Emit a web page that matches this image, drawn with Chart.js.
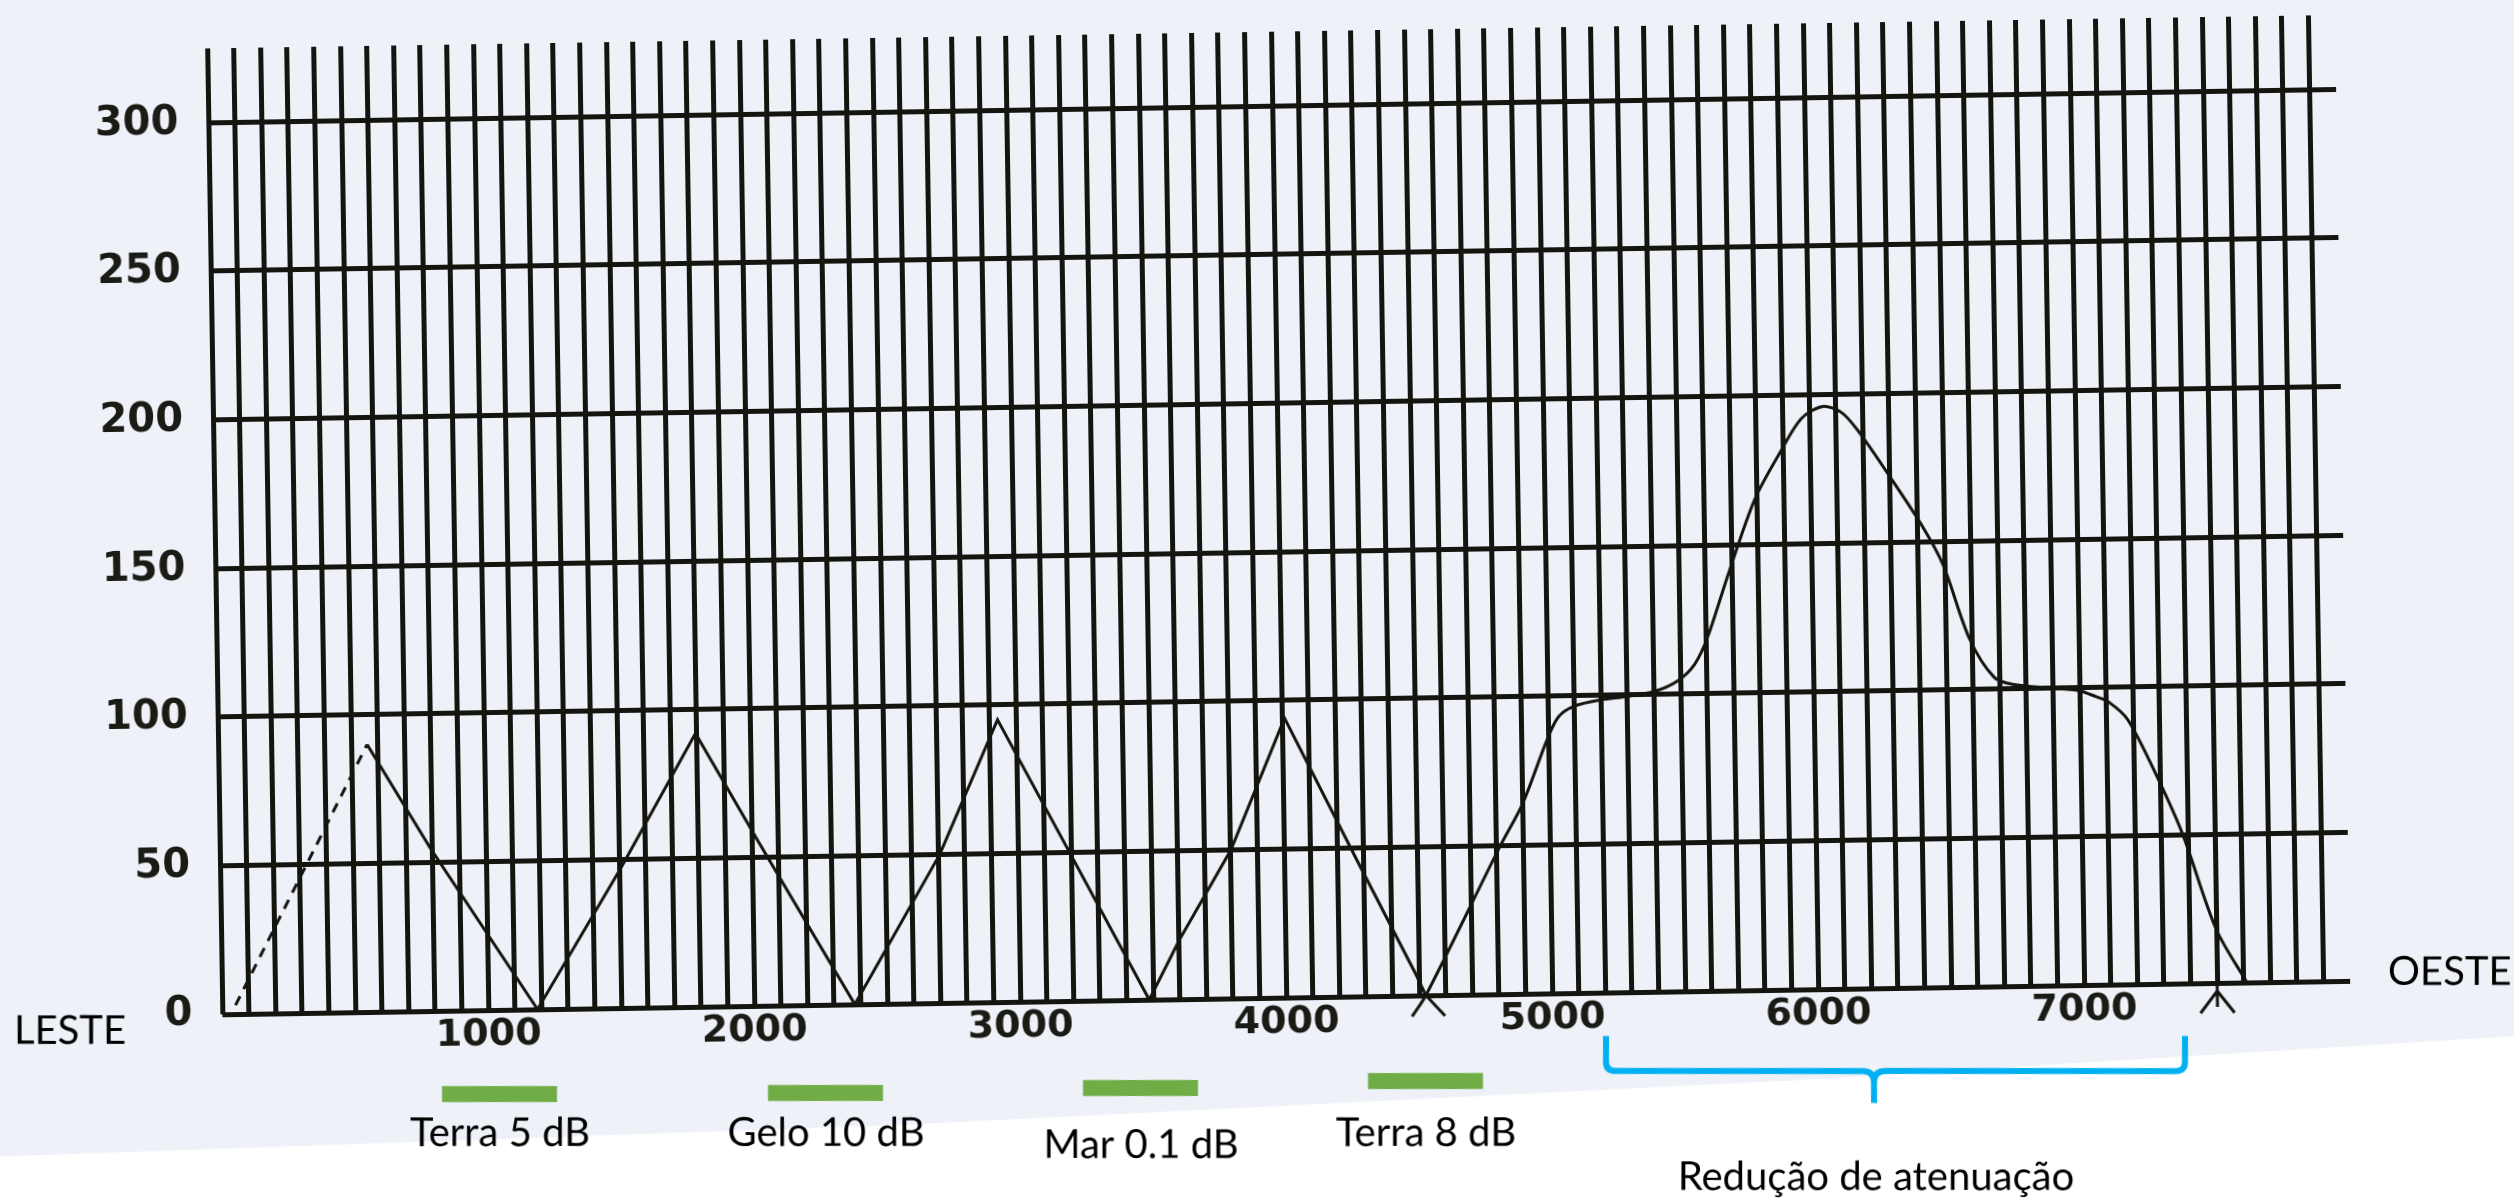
<!DOCTYPE html>
<html>
<head>
<meta charset="utf-8">
<script src="https://cdn.jsdelivr.net/npm/chart.js@4.4.0/dist/chart.umd.min.js"></script>
<style>
  html, body { margin: 0; padding: 0; overflow: hidden; background: #ffffff; }
  body { width: 2514px; height: 1201px; position: relative; }
  /* the scanned sheet sits slightly crooked; canvas is a bit larger than the page so the corners never show */
  #chart { position: absolute; left: -63px; top: -60px; transform: rotate(-0.9deg); transform-origin: 50% 50%; }
</style>
</head>
<body>
<canvas id="chart" width="2640" height="1320"></canvas>
<script>
// distance along the path vs level
const triangleX = [50, 560, 790, 1185, 1506, 1795, 2020, 2378, 2706, 2931, 3194, 3485, 3602, 3801, 4010, 4273, 4484, 4525, 4596];
const triangleY = [3, 90, 55, 0, 47, 92, 56, 0, 50, 95, 50, 0, 20, 50, 94, 46, 8, 0, -7];

const mainPeakX = [4472, 4525, 4814, 4900, 4994, 5040, 5100, 5200, 5300, 5400, 5490, 5555, 5605, 5690, 5790, 5890, 5970, 6050, 6120, 6180, 6300, 6420, 6495, 6590, 6680, 6750, 6900, 7000, 7060, 7110, 7180, 7290, 7380, 7500, 7612];
const mainPeakY = [-7, 0, 50, 64, 85, 93, 96.5, 98.5, 99.5, 101, 104.5, 110, 119, 141, 165, 181, 192, 196, 194, 188, 172, 155, 142, 117, 104, 101.5, 100, 99, 97, 95, 89, 69, 50, 18, 0];

const yTicks = [0, 50, 100, 150, 200, 250, 300];
const xTickLabels = [1000, 2000, 3000, 4000, 5000, 6000, 7000];
const bandLabels = ['Terra 5 dB', 'Gelo 10 dB', 'Mar 0.1 dB', 'Terra 8 dB'];
const braceLabel = 'Redução de atenuação';
const sideLabels = ['LESTE', 'OESTE'];
const arrowMarkX = 7500;

const TILT = 0.9;
const OFF_X = 63, OFF_Y = 60;
const ink = '#15150f';
const paper = '#eef1f8';

function toPoints(xs, ys) {
  return xs.map((x, i) => ({ x: x, y: ys[i] }));
}

// draw in page coordinates, undoing the css tilt and offset
function pageFrame(ctx, w, h) {
  ctx.translate(w / 2, h / 2);
  ctx.rotate(TILT * Math.PI / 180);
  ctx.translate(-w / 2, -h / 2);
  ctx.translate(OFF_X, OFF_Y);
}

const scanPaper = {
  id: 'scanPaper',
  beforeDraw(chart) {
    const { ctx, width, height } = chart;
    ctx.save();
    ctx.fillStyle = paper;
    ctx.fillRect(0, 0, width, height);
    pageFrame(ctx, width, height);
    // edge of the scan, white page below
    ctx.fillStyle = '#ffffff';
    ctx.beginPath();
    ctx.moveTo(-100, 1160);
    ctx.lineTo(900, 1125);
    ctx.lineTo(1800, 1080);
    ctx.lineTo(2650, 1028);
    ctx.lineTo(2650, 1350);
    ctx.lineTo(-100, 1350);
    ctx.closePath();
    ctx.fill();
    ctx.restore();
  },
  afterDraw(chart) {
    const { ctx, width, height, chartArea } = chart;
    const xs = chart.scales.x;

    // little arrow mark under the axis
    const ax = xs.getPixelForValue(arrowMarkX);
    const b = chartArea.bottom;
    ctx.save();
    ctx.strokeStyle = ink;
    ctx.lineWidth = 3;
    ctx.beginPath();
    ctx.moveTo(ax, b);
    ctx.lineTo(ax, b + 24);
    ctx.moveTo(ax - 17, b + 30);
    ctx.lineTo(ax, b + 8);
    ctx.lineTo(ax + 17, b + 30);
    ctx.stroke();
    ctx.restore();

    ctx.save();
    pageFrame(ctx, width, height);
    ctx.fillStyle = '#000';
    ctx.font = '40px Lato';
    ctx.textBaseline = 'middle';
    ctx.textAlign = 'left';
    ctx.fillText(sideLabels[0], 14, 1031);
    ctx.fillText(sideLabels[1], 2388, 972);

    // green bands with their attenuation
    const bars = [[442, 1086], [768, 1085], [1083, 1080], [1368, 1073]];
    const base = [1146, 1146, 1158, 1146];
    ctx.textAlign = 'center';
    ctx.textBaseline = 'alphabetic';
    bandLabels.forEach((t, i) => {
      ctx.fillStyle = '#70ad47';
      ctx.fillRect(bars[i][0], bars[i][1], 115, 16);
      ctx.fillStyle = '#000';
      ctx.fillText(t, bars[i][0] + 58, base[i]);
    });

    // blue brace
    ctx.strokeStyle = '#00b0f0';
    ctx.lineWidth = 6;
    ctx.lineJoin = 'round';
    ctx.beginPath();
    ctx.moveTo(1606, 1036);
    ctx.lineTo(1606, 1062);
    ctx.quadraticCurveTo(1606, 1071, 1616, 1071);
    ctx.lineTo(1862, 1071);
    ctx.quadraticCurveTo(1874, 1071, 1874, 1082);
    ctx.lineTo(1874, 1103);
    ctx.moveTo(1874, 1082);
    ctx.quadraticCurveTo(1874, 1071, 1886, 1071);
    ctx.lineTo(2176, 1071);
    ctx.quadraticCurveTo(2185, 1071, 2185, 1062);
    ctx.lineTo(2185, 1036);
    ctx.stroke();
    ctx.fillText(braceLabel, 1876, 1190);
    ctx.restore();
  }
};

new Chart(document.getElementById('chart'), {
  type: 'line',
  data: {
    datasets: [{
      data: toPoints(triangleX, triangleY),
      borderColor: ink,
      borderWidth: 3,
      pointRadius: 0,
      tension: 0,
      clip: false,
      segment: {
        borderDash: c => c.p1.parsed.x <= 560 ? [10, 8] : undefined
      }
    }, {
      data: toPoints(mainPeakX, mainPeakY),
      borderColor: ink,
      borderWidth: 3,
      pointRadius: 0,
      tension: 0.3,
      clip: false
    }]
  },
  options: {
    responsive: false,
    animation: false,
    devicePixelRatio: 1,
    layout: { padding: { left: OFF_X, right: 233, top: 32 + OFF_Y, bottom: 217 } },
    plugins: { legend: { display: false }, tooltip: { enabled: false } },
    scales: {
      x: {
        type: 'linear',
        min: 0,
        max: 8000,
        afterBuildTicks: s => {
          const t = [];
          for (let v = 0; v < 8000; v += 100) t.push({ value: v });
          s.ticks = t;
        },
        afterFit: s => { s.height = 45; },
        grid: { color: ink, lineWidth: 5, drawTicks: false },
        border: { display: false },
        ticks: {
          autoSkip: false,
          maxRotation: 0,
          padding: 2,
          color: '#1b1b16',
          font: { family: 'DejaVu Sans', weight: 'bold', size: 38 },
          callback: v => xTickLabels.includes(v) ? String(v) : ''
        }
      },
      y: {
        min: 0,
        max: 325,
        afterBuildTicks: s => { s.ticks = yTicks.map(v => ({ value: v })); },
        afterFit: s => { s.width = 216; },
        grid: { color: ink, lineWidth: 5, drawTicks: false },
        border: { display: false },
        ticks: { padding: 30, color: '#1b1b16', font: { family: 'DejaVu Sans', weight: 'bold', size: 40 } }
      }
    }
  },
  plugins: [scanPaper]
});
</script>
</body>
</html>
